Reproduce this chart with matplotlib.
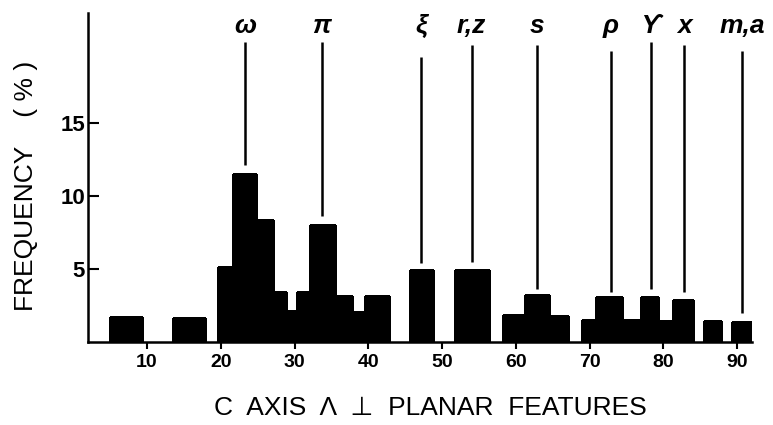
import matplotlib
matplotlib.use('Agg')
import matplotlib.pyplot as plt
import numpy as np

# histogram bins (degrees) and frequency (%)
bin_left = [5.0, 13.5, 19.6, 21.7, 24.8, 27.1, 28.8, 30.4, 32.1, 35.5, 37.8, 39.6,
            45.6, 51.7, 58.2, 61.3, 64.5, 68.9, 70.9, 74.4, 76.9, 79.3, 81.3, 85.5, 89.3]
bin_right = [9.3, 17.9, 21.7, 24.8, 27.1, 28.8, 30.4, 32.1, 35.5, 37.8, 39.6, 42.8,
             48.7, 56.3, 61.3, 64.5, 67.1, 70.9, 74.4, 76.9, 79.3, 81.3, 84.0, 87.8, 91.9]
freq = [1.7, 1.65, 5.1, 11.5, 8.35, 3.4, 2.1, 3.4, 8.0, 3.15, 2.05, 3.15,
        4.9, 4.9, 1.85, 3.2, 1.75, 1.5, 3.1, 1.5, 3.1, 1.45, 2.9, 1.45, 1.35]

# labelled planar feature forms
peak_labels = ['ω', 'π', 'ξ', 'r,z', 's', 'ρ', 'ϒ', 'x', 'm,a']
peak_pos = [23.3, 33.7, 47.2, 54.0, 62.8, 72.9, 78.3, 82.8, 90.7]
line_bottom = [12.1, 8.6, 5.4, 5.5, 3.6, 3.4, 3.6, 3.4, 2.0]
line_top = [20.5, 20.5, 19.5, 20.3, 20.3, 19.9, 20.5, 20.3, 19.9]

xticks = [10, 20, 30, 40, 50, 60, 70, 80, 90]
yticks = [5, 10, 15]

fig = plt.figure(figsize=(7.73, 4.25), dpi=100)
ax = fig.add_axes([0.1138, 0.1953, 0.8590, 0.7741])

widths = np.subtract(bin_right, bin_left)
ax.bar(bin_left, freq, width=widths, align='edge', color='black', edgecolor='black',
       linewidth=0.8, antialiased=False)

for lab, x, y0, y1 in zip(peak_labels, peak_pos, line_bottom, line_top):
    ax.plot([x, x], [y0, y1], color='black', lw=1.8, solid_capstyle='butt')
    ax.text(x, 21.6, lab, ha='center', va='center', fontsize=19, style='italic',
            fontweight='bold', family=['Liberation Sans', 'DejaVu Sans'])

ax.set_xlim(2.0, 92.0)
ax.set_ylim(0, 22.5)

for s in ['top', 'right']:
    ax.spines[s].set_visible(False)
for s in ['left', 'bottom']:
    ax.spines[s].set_linewidth(1.8)

ax.set_xticks(xticks)
ax.set_yticks(yticks)
ax.tick_params(axis='x', direction='out', length=5, width=1.5, pad=4, labelsize=14)
ax.tick_params(axis='y', direction='in', length=8, width=1.5, pad=2, labelsize=16)
for t in ax.get_xticklabels() + ax.get_yticklabels():
    t.set_family('Liberation Sans')
    t.set_fontweight('bold')

fig.text(0.557, 0.04, 'C  AXIS  Λ  ⊥  PLANAR  FEATURES', ha='center', va='center',
         fontsize=19, fontweight='medium', family=['Liberation Sans', 'DejaVu Sans'])
fig.text(0.034, 1 - 186 / 425, 'FREQUENCY    ( % )', ha='center', va='center', rotation=90,
         fontsize=19, family=['Liberation Sans', 'DejaVu Sans'])

fig.savefig('out.png', dpi=100)
